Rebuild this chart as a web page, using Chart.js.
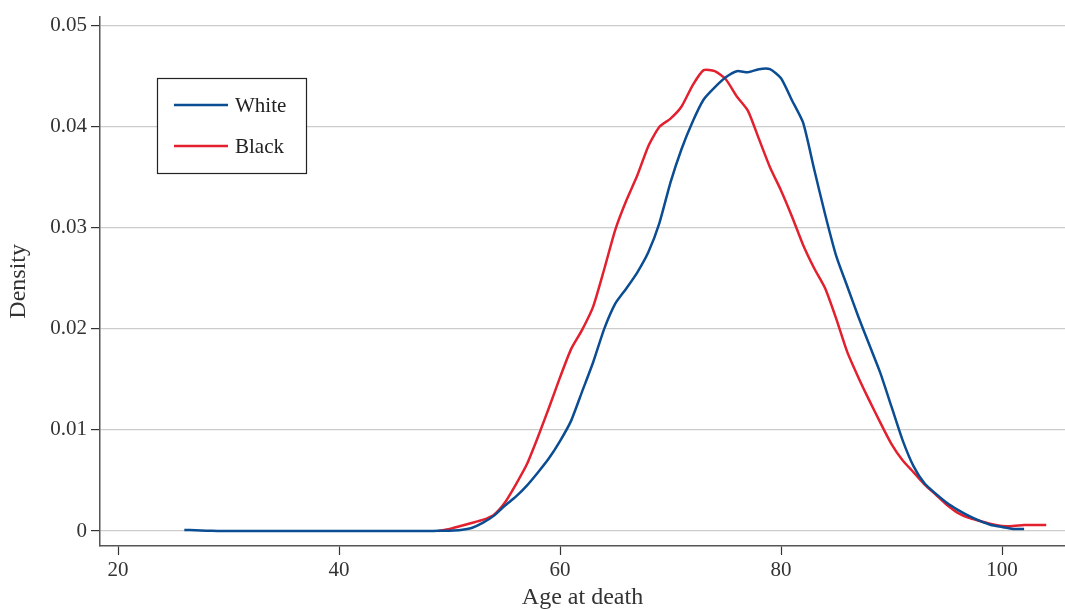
<!DOCTYPE html>
<html>
<head>
<meta charset="utf-8">
<script src="https://cdn.jsdelivr.net/npm/chart.js@4.4.1/dist/chart.umd.min.js"></script>
<style>
  body { margin: 0; background: #fff; }
  canvas { display: block; }
</style>
</head>
<body>
<canvas id="densityChart" width="1065" height="610"></canvas>
<script>
// age at death (years) and estimated density
const whiteAge = [26, 27, 28, 29, 30, 32, 34, 36, 38, 40, 42, 44, 46, 48, 49, 50, 51, 52, 53, 54, 55, 56, 57, 58, 59, 60,
    61, 62, 63, 64, 65, 66, 67, 68, 69, 70, 71, 72, 73, 74, 75, 76, 77, 78, 79, 80,
    81, 82, 83, 84, 85, 86, 87, 88, 89, 90, 91, 92, 93, 94, 95, 96, 97, 98, 99, 100, 101, 102];
const whiteDensity = [0.0001, 0.00008, 0.00004, 0.00001, 0, 0, 0, 0, 0, 0, 0, 0, 0, 0.00001, 0.00002, 0.00004, 0.0001, 0.0003, 0.0008, 0.0015, 0.0025, 0.0034, 0.0045, 0.0058, 0.0072, 0.0089,
    0.0109, 0.0138, 0.0167, 0.0200, 0.0225, 0.0240, 0.0256, 0.0276, 0.0305, 0.0345, 0.0378, 0.0405, 0.0427, 0.0439, 0.0449, 0.0455, 0.0454, 0.0457, 0.0457, 0.0448,
    0.0426, 0.0404, 0.0358, 0.0313, 0.0272, 0.0242, 0.0212, 0.0184, 0.0156, 0.0123, 0.0090, 0.0064, 0.0047, 0.0037, 0.0028, 0.0021, 0.0015, 0.0010, 0.0006, 0.0004, 0.0002, 0.0002];

const blackAge = [49, 50, 51, 52, 53, 54, 55, 56, 57, 58, 59, 60,
    61, 62, 63, 64, 65, 66, 67, 68, 69, 70, 71, 72, 73, 74, 75, 76, 77, 78, 79, 80,
    81, 82, 83, 84, 85, 86, 87, 88, 89, 90, 91, 92, 93, 94, 95, 96, 97, 98, 99, 100, 101, 102, 103, 104];
const blackDensity = [0, 0.0002, 0.0005, 0.0008, 0.0011, 0.0016, 0.0028, 0.0046, 0.0066, 0.0093, 0.0122, 0.0152,
    0.0180, 0.0199, 0.0222, 0.0259, 0.0298, 0.0327, 0.0352, 0.0381, 0.0400, 0.0408, 0.0420, 0.0441, 0.0456, 0.0455, 0.0447, 0.0430, 0.0416, 0.0388, 0.0360, 0.0337,
    0.0311, 0.0283, 0.0260, 0.0240, 0.0210, 0.0177, 0.0152, 0.0129, 0.0107, 0.0086, 0.0070, 0.0058, 0.0046, 0.0036, 0.0026, 0.0018, 0.0013, 0.0010, 0.0007, 0.0005, 0.0005, 0.0006, 0.0006, 0.0006];

const xTicks = [20, 40, 60, 80, 100];
const yTicks = [0, 0.01, 0.02, 0.03, 0.04, 0.05];

const seriesNames = ["White", "Black"];
const seriesColors = ["#0b4d92", "#e2202e"];

const serif = "'Liberation Serif', 'DejaVu Serif', serif";
const inkColor = "#333";

function toPoints(xs, ys) {
    return xs.map((x, i) => ({ x: x, y: ys[i] }));
}

// boxed legend in the upper left of the plot
const boxLegend = {
    id: "boxLegend",
    afterDraw(chart) {
        const ctx = chart.ctx;
        const bx = 157, by = 78, bw = 149, bh = 95;
        ctx.save();
        ctx.fillStyle = "#fff";
        ctx.fillRect(bx, by, bw, bh);
        ctx.strokeStyle = "#222";
        ctx.lineWidth = 1.2;
        ctx.strokeRect(bx + 0.5, by + 0.5, bw, bh);
        chart.data.datasets.forEach((ds, i) => {
            const y = by + 27 + i * 41;
            ctx.strokeStyle = ds.borderColor;
            ctx.lineWidth = 2.5;
            ctx.beginPath();
            ctx.moveTo(bx + 17, y);
            ctx.lineTo(bx + 71, y);
            ctx.stroke();
            ctx.fillStyle = "#222";
            ctx.font = "21px " + serif;
            ctx.textBaseline = "middle";
            ctx.fillText(ds.label, bx + 78, y + 1);
        });
        ctx.restore();
    }
};

new Chart(document.getElementById("densityChart"), {
    type: "line",
    data: {
        datasets: [
            {
                label: seriesNames[0],
                data: toPoints(whiteAge, whiteDensity),
                borderColor: seriesColors[0],
                borderWidth: 2.5,
                pointRadius: 0,
                tension: 0.2,
                fill: false
            },
            {
                label: seriesNames[1],
                data: toPoints(blackAge, blackDensity),
                borderColor: seriesColors[1],
                borderWidth: 2.5,
                pointRadius: 0,
                tension: 0.2,
                fill: false
            }
        ]
    },
    options: {
        responsive: false,
        animation: false,
        layout: { padding: { top: 0, right: 0, left: 4, bottom: 0 } },
        plugins: {
            legend: { display: false },
            tooltip: { enabled: false }
        },
        scales: {
            x: {
                type: "linear",
                min: 18.37,
                max: 105.7,
                afterBuildTicks: (scale) => { scale.ticks = xTicks.map(v => ({ value: v })); },
                afterFit: (scale) => { scale.height = 64; },
                border: { color: "#555", width: 1.5 },
                grid: { drawOnChartArea: false, tickColor: inkColor, tickLength: 9, tickWidth: 1.2 },
                ticks: { color: inkColor, font: { family: serif, size: 21 }, padding: 3 },
                title: {
                    display: true,
                    text: "Age at death",
                    color: inkColor,
                    font: { family: serif, size: 24, lineHeight: 1.0 },
                    padding: { top: 0, bottom: 0 }
                }
            },
            y: {
                min: -0.00148,
                max: 0.0509,
                afterBuildTicks: (scale) => { scale.ticks = yTicks.map(v => ({ value: v })); },
                afterFit: (scale) => { scale.width = 96; },
                border: { color: "#555", width: 1.5 },
                grid: { color: "#cccccc", lineWidth: 1.2, tickColor: inkColor, tickLength: 9, tickWidth: 1.2 },
                ticks: {
                    color: inkColor,
                    font: { family: serif, size: 21 },
                    padding: 4,
                    callback: (v) => v === 0 ? "0" : v.toFixed(2)
                },
                title: {
                    display: true,
                    text: "Density",
                    color: inkColor,
                    font: { family: serif, size: 24 },
                    padding: { top: 0, bottom: 0 }
                }
            }
        }
    },
    plugins: [boxLegend]
});
</script>
</body>
</html>
